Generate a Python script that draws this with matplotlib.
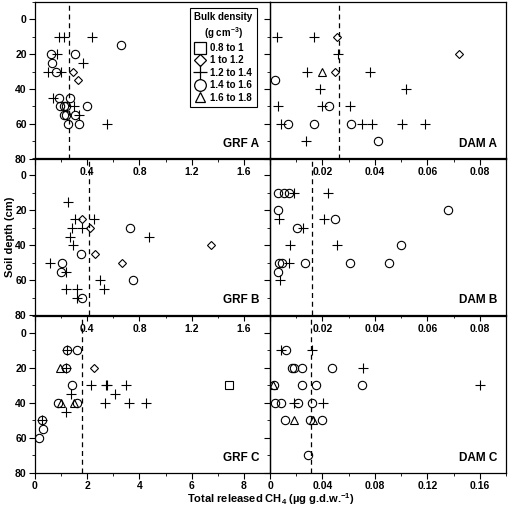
import matplotlib.pyplot as plt
from matplotlib.ticker import MultipleLocator, FuncFormatter

plt.rcParams['font.family'] = ['Liberation Sans', 'DejaVu Sans']
plt.rcParams['font.weight'] = 'bold'
plt.rcParams['mathtext.default'] = 'regular'

# --- bulk density classes ---
CLASSES = ['0.8 to 1', '1 to 1.2', '1.2 to 1.4', '1.4 to 1.6', '1.6 to 1.8']
MARKERS = ['s', 'D', '+', 'o', '^']
MSIZE = [6, 4.5, 7, 6, 5.5]

# --- data: (CH4, depth) per panel and density class ---
grf_a_diamond = [(0.29, 30), (0.33, 35)]
grf_a_plus = [(0.18, 10), (0.22, 10), (0.44, 10), (0.17, 20), (0.37, 25),
              (0.10, 30), (0.20, 30), (0.14, 45), (0.30, 50), (0.34, 55),
              (0.55, 60)]
grf_a_circle = [(0.66, 15), (0.12, 20), (0.31, 20), (0.13, 25), (0.16, 30),
                (0.18, 45), (0.27, 45), (0.19, 50), (0.22, 50), (0.24, 50),
                (0.40, 50), (0.22, 55), (0.24, 55), (0.31, 55), (0.25, 60),
                (0.34, 60)]

dam_a_diamond = [(0.0254, 10), (0.072, 20), (0.0248, 30)]
dam_a_plus = [(0.0025, 10), (0.0169, 10), (0.0258, 20), (0.0142, 30),
              (0.0383, 30), (0.019, 40), (0.052, 40), (0.0032, 50),
              (0.0197, 50), (0.0305, 50), (0.0041, 60), (0.0352, 60),
              (0.0388, 60), (0.0502, 60), (0.0591, 60), (0.0136, 70)]
dam_a_circle = [(0.0019, 35), (0.0225, 50), (0.007, 60), (0.0169, 60),
                (0.0309, 60), (0.041, 70)]
dam_a_triangle = [(0.0197, 30)]

grf_b_diamond = [(0.36, 25), (0.42, 30), (1.35, 40), (0.46, 45), (0.67, 50)]
grf_b_plus = [(0.25, 15), (0.31, 25), (0.45, 25), (0.28, 30), (0.36, 30),
              (0.27, 35), (0.87, 35), (0.29, 40), (0.115, 50), (0.24, 55),
              (0.50, 60), (0.24, 65), (0.32, 65), (0.53, 65), (0.32, 70)]
grf_b_circle = [(0.73, 30), (0.35, 45), (0.21, 50), (0.20, 55), (0.75, 60),
                (0.36, 70)]

dam_b_plus = [(0.009, 10), (0.022, 10), (0.0035, 25), (0.0206, 25),
              (0.0126, 30), (0.0077, 40), (0.0254, 40), (0.0074, 50),
              (0.0037, 60)]
dam_b_circle = [(0.0031, 10), (0.0052, 10), (0.0072, 10), (0.0031, 20),
                (0.0678, 20), (0.0248, 25), (0.0104, 30), (0.050, 40),
                (0.0036, 50), (0.0045, 50), (0.0135, 50), (0.0305, 50),
                (0.0453, 50), (0.0031, 55)]

grf_c_square = [(7.43, 30)]
grf_c_diamond = [(2.25, 20)]
grf_c_plus = [(1.22, 10), (1.20, 20), (2.15, 30), (2.70, 30), (2.75, 30),
              (3.47, 30), (1.38, 35), (3.05, 35), (2.67, 40), (3.59, 40),
              (4.25, 40), (1.20, 45), (0.25, 50)]
grf_c_circle = [(1.22, 10), (1.62, 10), (1.20, 20), (1.43, 30), (0.89, 40),
                (1.59, 40), (0.25, 50), (0.29, 55), (0.15, 60)]
grf_c_triangle = [(0.94, 20), (0.98, 40), (1.49, 40)]

dam_c_plus = [(0.0086, 10), (0.032, 10), (0.0706, 20), (0.1605, 30),
              (0.0183, 40), (0.0404, 40)]
dam_c_circle = [(0.0124, 10), (0.0168, 20), (0.0183, 20), (0.0247, 20),
                (0.0475, 20), (0.0033, 30), (0.0247, 30), (0.0353, 30),
                (0.0701, 30), (0.0036, 40), (0.0086, 40), (0.0214, 40),
                (0.0323, 40), (0.0117, 50), (0.0303, 50), (0.0397, 50),
                (0.029, 70)]
dam_c_triangle = [(0.0023, 30), (0.0183, 50), (0.0328, 50)]

# mean CH4 per panel (dashed line)
MEANS = {'GRF A': 0.26, 'DAM A': 0.0262, 'GRF B': 0.416,
         'DAM B': 0.0161, 'GRF C': 1.81, 'DAM C': 0.0313}

panels = [
    ('GRF A', [None, grf_a_diamond, grf_a_plus, grf_a_circle, None], 1.8, 0.4, 0.2, False),
    ('DAM A', [None, dam_a_diamond, dam_a_plus, dam_a_circle, dam_a_triangle], 0.09, 0.02, 0.01, False),
    ('GRF B', [None, grf_b_diamond, grf_b_plus, grf_b_circle, None], 1.8, 0.4, 0.2, False),
    ('DAM B', [None, None, dam_b_plus, dam_b_circle, None], 0.09, 0.02, 0.01, False),
    ('GRF C', [grf_c_square, grf_c_diamond, grf_c_plus, grf_c_circle, grf_c_triangle], 9, 2, 1, True),
    ('DAM C', [None, None, dam_c_plus, dam_c_circle, dam_c_triangle], 0.18, 0.04, 0.02, True),
]

W, H = 521, 508
fig = plt.figure(figsize=(W / 100, H / 100), dpi=100)

col_left = [35, 270]
col_width = [235, 236]
row_top = [1.6, 158, 315.5]
row_h = 157.3

for i, (name, groups, xmax, major, minor, show_zero) in enumerate(panels):
    r, c = divmod(i, 2)
    ax = fig.add_axes([col_left[c] / W, 1 - (row_top[r] + row_h) / H,
                       col_width[c] / W, row_h / H])
    ax.patch.set_visible(False)

    for k, pts in enumerate(groups):
        if not pts:
            continue
        xs = [p[0] for p in pts]
        ys = [p[1] for p in pts]
        ax.plot(xs, ys, linestyle='none', marker=MARKERS[k], ms=MSIZE[k],
                mfc='none', mec='black', mew=0.8, color='black')

    ax.axvline(MEANS[name], color='black', linestyle=(0, (4, 3)), lw=0.9)

    ax.set_xlim(0, xmax)
    ax.set_ylim(80, -10)
    ax.xaxis.set_major_locator(MultipleLocator(major))
    ax.xaxis.set_minor_locator(MultipleLocator(minor))
    ax.yaxis.set_major_locator(MultipleLocator(20))
    ax.yaxis.set_minor_locator(MultipleLocator(10))
    if show_zero:
        ax.xaxis.set_major_formatter(FuncFormatter(lambda v, p: '%g' % round(v, 4)))
    else:
        ax.xaxis.set_major_formatter(
            FuncFormatter(lambda v, p: '' if abs(v) < 1e-9 else '%g' % round(v, 4)))
    ax.tick_params(which='major', direction='out', length=4, width=0.8,
                   labelsize=7.5, pad=2)
    ax.tick_params(which='minor', direction='out', length=2, width=0.6)
    if c == 1:
        ax.tick_params(axis='y', labelleft=False)
    for lab in ax.get_xticklabels() + ax.get_yticklabels():
        lab.set_fontweight('bold')
    for sp in ax.spines.values():
        sp.set_linewidth(0.9)

    ax.text(0.955 if c == 0 else 0.962, 0.095, name, transform=ax.transAxes,
            ha='right', va='center', fontsize=8.5, fontweight='bold')

    if name == 'GRF A':
        handles = [plt.Line2D([], [], linestyle='none', marker=m,
                              ms=s * 1.4, mfc='none', mec='black', mew=0.9)
                   for m, s in zip(MARKERS, MSIZE)]
        leg = ax.legend(handles, CLASSES, loc='upper right',
                        bbox_to_anchor=(0.965, 0.99),
                        title='Bulk density\n(g cm$^{-3}$)',
                        title_fontproperties={'weight': 'bold', 'size': 7},
                        prop={'weight': 'bold', 'size': 7},
                        fancybox=False, edgecolor='black', framealpha=1,
                        handlelength=1.1, handletextpad=0.5,
                        labelspacing=0.25, borderpad=0.45)
        leg.get_title().set_multialignment('center')
        leg.get_frame().set_linewidth(0.8)

fig.text(0.519, 0.017, 'Total released CH$_4$ (µg g.d.w.$^{-1}$)',
         ha='center', va='center', fontsize=8, fontweight='bold')
fig.text(0.02, 0.533, 'Soil depth (cm)', rotation=90,
         ha='center', va='center', fontsize=8, fontweight='bold')

fig.savefig('out.png', dpi=100)
